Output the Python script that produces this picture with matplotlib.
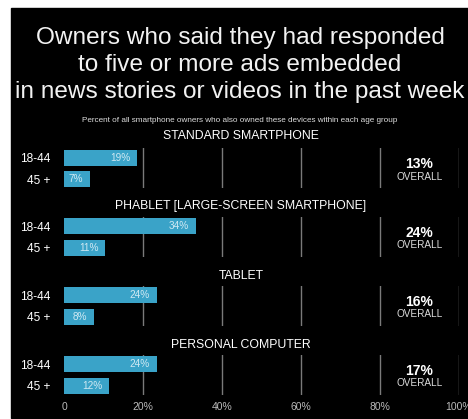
import matplotlib.pyplot as plt
from matplotlib.patches import Rectangle

plt.rcParams['font.family'] = ['Liberation Sans', 'DejaVu Sans']

groups = ['STANDARD SMARTPHONE', 'PHABLET [LARGE-SCREEN SMARTPHONE]', 'TABLET', 'PERSONAL COMPUTER']
ages = ['18-44', '45 +']
young = [19, 34, 24, 24]
old = [7, 11, 8, 12]
overall = [13, 24, 16, 17]
ticks = [0, 20, 40, 60, 80, 100]
tick_labels = ['0', '20%', '40%', '60%', '80%', '100%']

W, H = 468, 419
bar_color = '#3aa3c8'
grid_color = '#7a7a7a'

fig = plt.figure(figsize=(W / 100, H / 100), dpi=100)
fig.patch.set_facecolor('white')
fig.add_artist(Rectangle((11 / W, 1 / H), 1 - 11 / W, (H - 9) / H,
                         transform=fig.transFigure, color='black', zorder=0))

title = 'Owners who said they had responded\nto five or more ads embedded\nin news stories or videos in the past week'
fig.text(240 / W, 1 - 65 / H, title, ha='center', va='center', color='#f2f2f2',
         fontsize=17.6, linespacing=1.27)
fig.text(240 / W, 1 - 120 / H,
         'Percent of all smartphone owners who also owned these devices within each age group',
         ha='center', va='center', color='#dddddd', fontsize=5.9)

x0, x1 = 64, 459
centers = [168.5, 237, 306, 375]
title_y = [136, 206, 276, 345]
half = 20

for i, g in enumerate(groups):
    c = centers[i]
    ax = fig.add_axes([x0 / W, 1 - (c + half) / H, (x1 - x0) / W, 2 * half / H])
    ax.set_facecolor('none')
    ax.set_xlim(0, 100)
    ax.set_ylim(1.45, -0.45)
    for s in ax.spines.values():
        s.set_visible(False)
    ax.set_yticks([0, 1])
    ax.set_yticklabels(ages, color='white', fontsize=8.6)
    ax.tick_params(axis='y', length=0, pad=10)
    ax.set_xticks([])
    for t in ticks[1:]:
        ax.axvline(t, color=grid_color, lw=1, zorder=1)
    vals = [young[i], old[i]]
    ax.barh([0, 1], vals, height=0.76, left=-0.5, color=bar_color, zorder=2)
    for j, v in enumerate(vals):
        ax.annotate('%d%%' % v, (v - 0.5, j), xytext=(-5, 0), textcoords='offset points',
                    ha='right', va='center', color='#cfe9f3', fontsize=7.2, zorder=3)
    ax.text(90, 0.29, '%d%%' % overall[i], ha='center', va='center', color='white',
            fontsize=10, fontweight='bold')
    ax.text(90, 0.9, 'OVERALL', ha='center', va='center', color='#dddddd', fontsize=7.2)
    fig.text(241 / W, 1 - title_y[i] / H, g, ha='center', va='center',
             color='white', fontsize=8.8)

for t, lab in zip(ticks, tick_labels):
    fig.text((x0 + (x1 - x0) * t / 100) / W, 1 - 407 / H, lab, ha='center', va='center',
             color='#bbbbbb', fontsize=7.5)

fig.savefig('out.png', dpi=100, facecolor=fig.get_facecolor())
